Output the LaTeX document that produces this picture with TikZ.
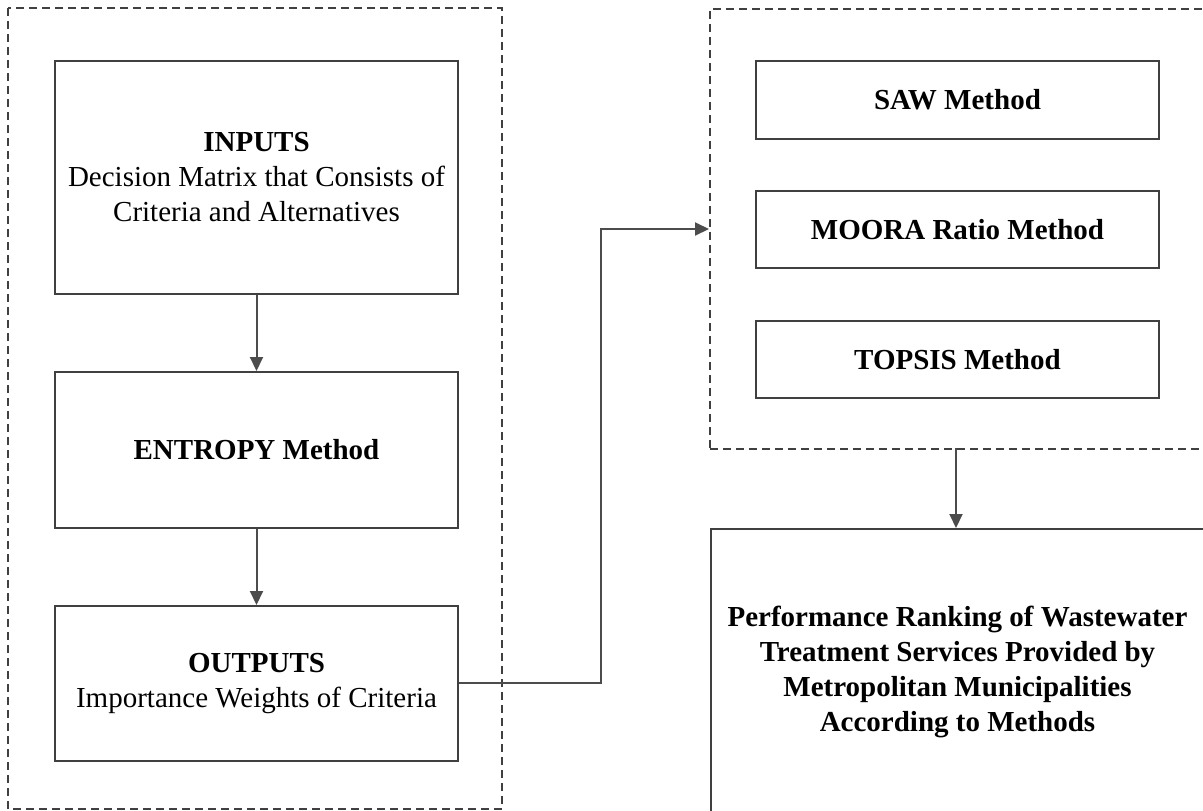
\documentclass[tikz,border=0pt]{standalone}
\usepackage{fontspec}
\setmainfont{Liberation Serif}
\usetikzlibrary{arrows.meta}
\begin{document}
\begin{tikzpicture}[x=1pt,y=-1pt,
  box/.style={draw=black!75,line width=2pt,fill=white,inner sep=0pt,align=center,font=\fontsize{29}{35}\selectfont},
  container/.style={draw=black!75,line width=1.8pt,dash pattern=on 8pt off 5pt},
  conn/.style={draw=black!70,line width=2pt,-{Triangle[length=14pt,width=13pt]}}]
\useasboundingbox (0,0) rectangle (1203,811);
\fill[white] (0,0) rectangle (1203,811);
% containers
\draw[container] (8,8) rectangle (502,809);
\node[container,minimum width=494pt,minimum height=440pt,inner sep=0pt,anchor=north west] (rc) at (709,8) {};
% left boxes
\node[box,minimum width=403pt,minimum height=233pt,anchor=north west] (inp) at (54,60)
  {\raisebox{30pt}{\parbox{403pt}{\centering\textbf{INPUTS}\\Decision Matrix that Consists of\\Criteria and Alternatives}}};
\node[box,minimum width=403pt,minimum height=156pt,anchor=north west] (ent) at (54,371) {\textbf{ENTROPY Method}};
\node[box,minimum width=403pt,minimum height=155pt,anchor=north west] (out) at (54,605)
  {\textbf{OUTPUTS}\\Importance Weights of Criteria};
% right boxes
\node[box,minimum width=403pt,minimum height=78pt,anchor=north west] (saw) at (755,60) {\textbf{SAW Method}};
\node[box,minimum width=403pt,minimum height=77pt,anchor=north west] (moo) at (755,190) {\textbf{MOORA Ratio Method}};
\node[box,minimum width=403pt,minimum height=77pt,anchor=north west] (top) at (755,320) {\textbf{TOPSIS Method}};
\node[box,minimum width=493pt,minimum height=285pt,anchor=north west] (perf) at (710,528)
  {\bfseries Performance Ranking of Wastewater\\\bfseries Treatment Services Provided by\\\bfseries Metropolitan Municipalities\\\bfseries According to Methods};
% connectors
\coordinate (bend1) at (601,683);
\coordinate (bend2) at (601,229);
\coordinate (rcin) at (709,229);
\coordinate (rcout) at (956,448);
\draw[conn] (inp.south) -- (ent.north);
\draw[conn] (ent.south) -- (out.north);
\draw[conn] (out.east |- bend1) -- (bend1) -- (bend2) -- (rcin);
\draw[conn] (rcout) -- (rcout |- perf.north);
\end{tikzpicture}
\end{document}
